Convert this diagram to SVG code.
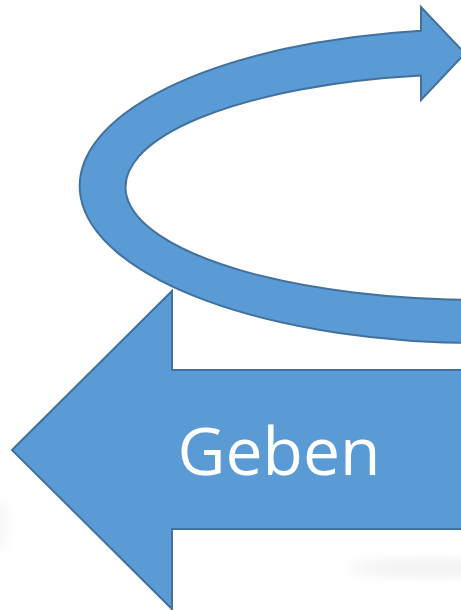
<svg xmlns="http://www.w3.org/2000/svg" width="461" height="610" viewBox="0 0 461 610">
  <style>
    .shape { fill: #5B9BD5; stroke: #41719C; stroke-width: 2; stroke-linejoin: miter; }
    .label { fill: #FFFFFF; font-family: "Open Sans", "Noto Sans", "Liberation Sans", sans-serif; font-size: 66px; }
  </style>
  <defs>
    <filter id="blur" x="-50%" y="-50%" width="200%" height="200%">
      <feGaussianBlur stdDeviation="6"/>
    </filter>
  </defs>
  <rect x="0" y="0" width="461" height="610" fill="#FFFFFF"/>
  <g id="shadows" filter="url(#blur)">
    <ellipse cx="430" cy="568" rx="80" ry="9" fill="#000" opacity="0.05"/>
    <ellipse cx="0" cy="525" rx="5" ry="26" fill="#000" opacity="0.05"/>
  </g>
  <g id="geben-arrow">
    <path class="shape" d="M 12 450 L 172 291 L 172 370 L 475 370 L 475 529 L 172 529 L 172 609 Z"/>
    <text class="label" x="279" y="475" text-anchor="middle">Geben</text>
  </g>
  <g id="circular-arrow">
    <path class="shape" d="M 421 30.7 A 400 157 0 0 0 480 343 L 480 300 A 355 113 0 0 1 421 75.6 L 421 100 L 465 53.5 L 421 7 Z"/>
  </g>
  <g id="connectors"></g>
</svg>
